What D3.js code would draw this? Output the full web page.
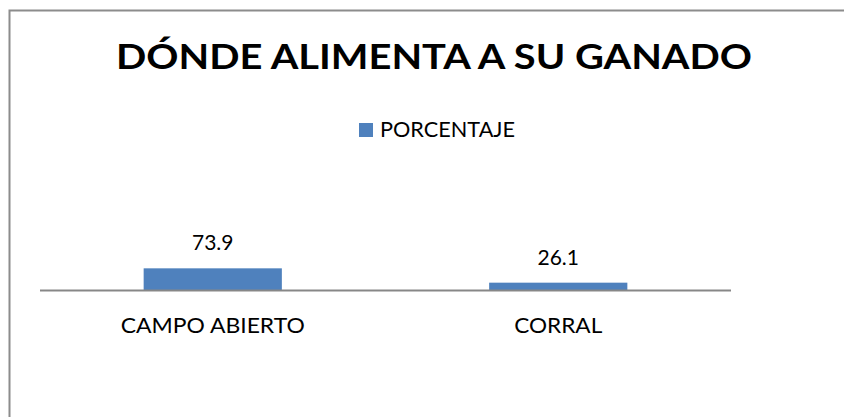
<!DOCTYPE html>
<html>
<head>
<meta charset="utf-8">
<script src="https://cdn.jsdelivr.net/npm/d3@7"></script>
<style>
    body { margin: 0; background: #fff; }
    svg { display: block; font-family: Lato, 'Open Sans', sans-serif; }
</style>
</head>
<body>
<div id="chart"></div>
<script>
// data
const categories = ['CAMPO ABIERTO', 'CORRAL'];
const values = [73.9, 26.1];
const seriesName = 'PORCENTAJE';
const title = 'DÓNDE ALIMENTA A SU GANADO';

const width = 844;
const height = 417;
const barColor = '#4f81bd';

const svg = d3.select('#chart')
    .append('svg')
        .attr('viewBox', [0, 0, width, height])
        .attr('width', width)
        .attr('height', height);

// chart border (cut off on the right and bottom)
svg.append('rect')
    .attr('x', 9.5)
    .attr('y', 10.5)
    .attr('width', width)
    .attr('height', height)
    .attr('fill', 'none')
    .attr('stroke', '#8c8c8c')
    .attr('stroke-width', 2);

// title
svg.append('text')
    .attr('x', 434)
    .attr('y', 69)
    .attr('text-anchor', 'middle')
    .attr('textLength', 636)
    .attr('lengthAdjust', 'spacingAndGlyphs')
    .style('font-size', '34px')
    .style('font-weight', 700)
    .text(title);

// legend
const legend = svg.append('g');
legend.append('rect')
    .attr('x', 359)
    .attr('y', 123)
    .attr('width', 14)
    .attr('height', 14)
    .attr('fill', barColor);
legend.append('text')
    .attr('x', 380)
    .attr('y', 137)
    .attr('textLength', 135)
    .attr('lengthAdjust', 'spacingAndGlyphs')
    .style('font-size', '21px')
    .text(seriesName);

// scales
const x = d3.scaleBand()
    .domain(categories)
    .range([40, 731])
    .paddingInner(0.6)
    .paddingOuter(0.3);

const y = d3.scaleLinear()
    .domain([0, 100])
    .range([290.5, 260.5]);

const data = categories.map((c, i) => ({category: c, value: values[i]}));

// bars
svg.append('g')
    .selectAll('rect')
    .data(data)
    .join('rect')
        .attr('x', d => x(d.category))
        .attr('y', d => y(d.value))
        .attr('width', x.bandwidth())
        .attr('height', d => y(0) - y(d.value))
        .attr('fill', barColor);

// value labels
svg.append('g')
    .selectAll('text')
    .data(data)
    .join('text')
        .attr('x', d => x(d.category) + x.bandwidth() / 2)
        .attr('y', d => y(d.value) - 18)
        .attr('text-anchor', 'middle')
        .style('font-size', '21px')
        .text(d => d.value.toFixed(1));

// category axis
const xAxis = svg.append('g')
    .attr('transform', `translate(0, ${y(0)})`)
    .call(d3.axisBottom(x).tickSize(0).tickPadding(0));
xAxis.select('.domain')
    .attr('d', `M${x.range()[0]},0H${x.range()[1]}`)
    .attr('stroke', '#878787')
    .attr('stroke-width', 2);
const labelWidths = {'CAMPO ABIERTO': 184, 'CORRAL': 88};
xAxis.selectAll('.tick text')
    .attr('y', 42)
    .attr('dy', 0)
    .attr('fill', '#000')
    .attr('textLength', d => labelWidths[d])
    .attr('lengthAdjust', 'spacingAndGlyphs')
    .style('font-size', '21px')
    .style('font-family', "Lato, 'Open Sans', sans-serif");
</script>
</body>
</html>
